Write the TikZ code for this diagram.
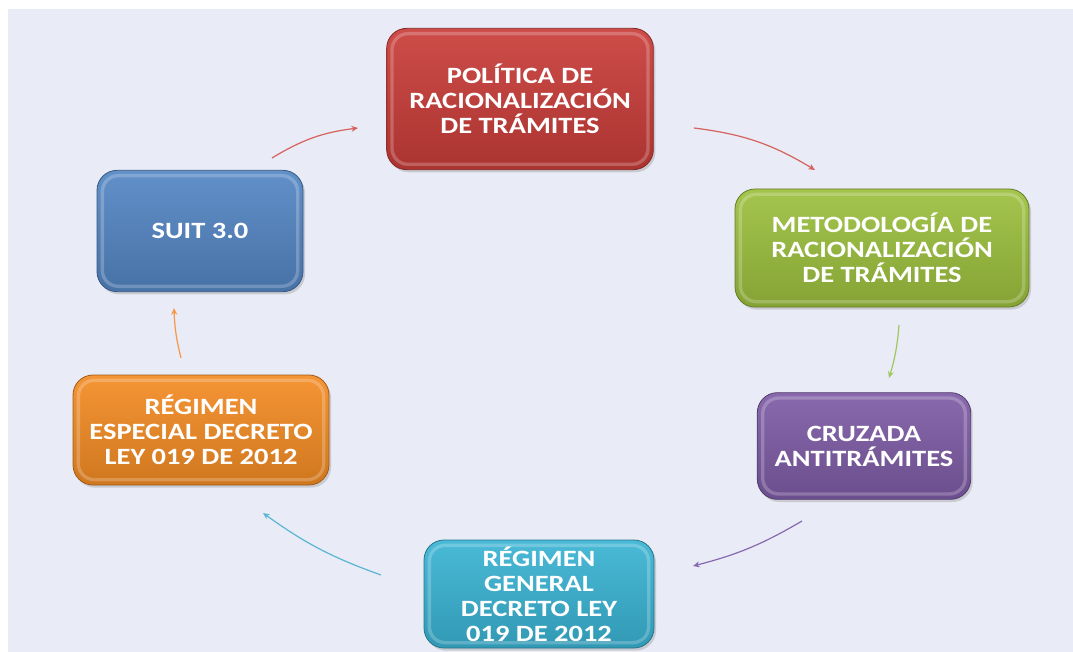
\documentclass[tikz,border=0pt]{standalone}
\usepackage{fontspec}
\setmainfont{Carlito}[FakeStretch=1.22]
\usetikzlibrary{shadows,arrows.meta}

\definecolor{fondo}{RGB}{233,235,246}
\definecolor{rojo}{RGB}{201,61,57}
\definecolor{verde}{RGB}{156,192,62}
\definecolor{morado}{RGB}{126,92,166}
\definecolor{cian}{RGB}{58,180,212}
\definecolor{naranja}{RGB}{244,140,36}
\definecolor{azul}{RGB}{84,134,196}
\definecolor{frojo}{RGB}{214,98,94}
\definecolor{fverde}{RGB}{160,200,92}
\definecolor{fmorado}{RGB}{135,105,175}
\definecolor{fcian}{RGB}{88,182,212}
\definecolor{fnaranja}{RGB}{247,152,72}

\begin{document}
\begin{tikzpicture}[x=0.75pt,y=-0.75pt,
  caja/.style={rounded corners=15pt, draw=#1!65!black, line width=0.6pt,
    top color=#1!92!white, bottom color=#1!85!black, text=white,
    font=\fontsize{17.5}{18.8}\selectfont\bfseries, align=center,
    drop shadow={opacity=0.3,shadow xshift=1.5pt,shadow yshift=-2pt},
    path picture={\draw[white,opacity=0.22,line width=2.5pt,rounded corners=12pt]
      ([shift={(4pt,-4pt)}]path picture bounding box.north west) rectangle
      ([shift={(-4pt,4pt)}]path picture bounding box.south east);}},
  flecha/.style={draw=#1, line width=0.9pt, -{Stealth[length=5pt,width=4.5pt]}}]
\useasboundingbox (0,0) rectangle (1073,652);
\clip (0,0) rectangle (1073,652);
\fill[white] (0,0) rectangle (1073,652);
\fill[fondo] (8,9) rectangle (1073,652);

\node[caja=rojo, minimum width=200pt, minimum height=106pt] (politica) at (520,99)
  {POLÍTICA DE\\RACIONALIZACIÓN\\DE TRÁMITES};
\node[caja=verde, minimum width=220.5pt, minimum height=88.5pt] (metodologia) at (882,248)
  {METODOLOGÍA DE\\RACIONALIZACIÓN\\DE TRÁMITES};
\node[caja=morado, minimum width=160pt, minimum height=80pt] (cruzada) at (864,446)
  {CRUZADA\\ANTITRÁMITES};
\node[caja=cian, minimum width=172.5pt, minimum height=81pt] (general) at (539,594)
  {RÉGIMEN\\GENERAL\\DECRETO LEY\\019 DE 2012};
\node[caja=naranja, minimum width=192pt, minimum height=82.5pt] (especial) at (201,430)
  {RÉGIMEN\\ESPECIAL DECRETO\\LEY 019 DE 2012};
\node[caja=azul, minimum width=154.5pt, minimum height=91pt] (suit) at (200,231)
  {SUIT 3.0};

\coordinate (a1) at (272,158);
\coordinate (b1) at (358,128);
\coordinate (a2) at (694,128);
\coordinate (b2) at (815,170);
\coordinate (a3) at (899,325);
\coordinate (b3) at (889,378);
\coordinate (a4) at (802,521);
\coordinate (b4) at (693,566);
\coordinate (a5) at (381,575);
\coordinate (b5) at (263,513);
\coordinate (a6) at (181,358);
\coordinate (b6) at (174,308);

\draw[flecha=frojo] (a1) to[bend left=12] (b1);
\draw[flecha=frojo] (a2) to[bend left=12] (b2);
\draw[flecha=fverde] (a3) to[bend left=6] (b3);
\draw[flecha=fmorado] (a4) to[bend left=8] (b4);
\draw[flecha=fcian] (a5) to[bend left=8] (b5);
\draw[flecha=fnaranja] (a6) to[bend left=6] (b6);
\end{tikzpicture}
\end{document}
